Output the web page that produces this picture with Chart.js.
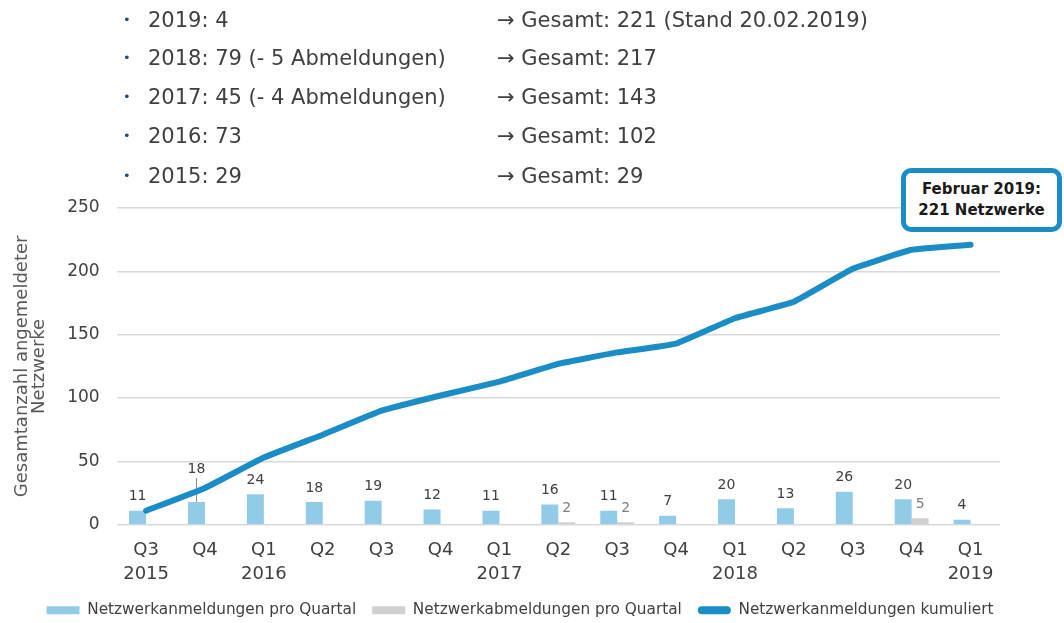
<!DOCTYPE html>
<html>
<head>
<meta charset="utf-8">
<script src="https://cdn.jsdelivr.net/npm/chart.js@4.4.1/dist/chart.umd.min.js"></script>
<style>
  body { margin: 0; background: #fff; font-family: "DejaVu Sans", sans-serif; }
  #wrap { position: relative; width: 1064px; height: 623px; overflow: hidden; }
  #chart { position: absolute; left: 0; top: 0; }
  .row { position: absolute; height: 26px; line-height: 26px; font-size: 21px; color: #404040; white-space: nowrap; }
  .bullet { position: absolute; left: 123px; font-size: 13px; color: #1f4e79; }
  .left { left: 148px; }
  .right { left: 497px; }
  #callout {
    position: absolute; left: 901px; top: 168px; width: 161px; height: 64px;
    box-sizing: border-box; border: 5px solid #1b8dc6; border-radius: 10px; background: #fff;
    font-weight: bold; font-size: 15px; line-height: 21px; color: #1a1a1a;
    display: flex; flex-direction: column; justify-content: center; align-items: center;
  }
</style>
</head>
<body>
<div id="wrap">
  <canvas id="chart" width="1064" height="623"></canvas>
</div>
<script>
const quarters = ["Q3", "Q4", "Q1", "Q2", "Q3", "Q4", "Q1", "Q2", "Q3", "Q4", "Q1", "Q2", "Q3", "Q4", "Q1"];
const years = ["2015", "", "2016", "", "", "", "2017", "", "", "", "2018", "", "", "", "2019"];

const anmeldungen = [11, 18, 24, 18, 19, 12, 11, 16, 11, 7, 20, 13, 26, 20, 4];
const abmeldungen = [null, null, null, null, null, null, null, 2, 2, null, null, null, null, 5, null];
const kumuliert = [11, 29, 53, 71, 90, 102, 113, 127, 136, 143, 163, 176, 202, 217, 221];

const yTicks = [0, 50, 100, 150, 200, 250];

const summaryLeft = ["2019: 4", "2018: 79 (- 5 Abmeldungen)", "2017: 45 (- 4 Abmeldungen)", "2016: 73", "2015: 29"];
const summaryRight = ["Gesamt: 221 (Stand 20.02.2019)", "Gesamt: 217", "Gesamt: 143", "Gesamt: 102", "Gesamt: 29"];
const calloutLines = ["Februar 2019:", "221 Netzwerke"];

const blue = "#1b8dc6";
const lightBlue = "#92cbe7";
const grey = "#d0d0d0";
const textColor = "#404040";

// bullet list above the chart
const wrap = document.getElementById("wrap");
const rowCenters = [20, 58, 97, 136, 176];
summaryLeft.forEach((txt, i) => {
    const top = rowCenters[i] - 13;
    const b = document.createElement("div");
    b.className = "row bullet";
    b.style.top = top + "px";
    b.textContent = "•";
    wrap.appendChild(b);

    const l = document.createElement("div");
    l.className = "row left";
    l.style.top = top + "px";
    l.textContent = txt;
    wrap.appendChild(l);

    const r = document.createElement("div");
    r.className = "row right";
    r.style.top = top + "px";
    r.textContent = "\u2192 " + summaryRight[i];
    wrap.appendChild(r);
});

const callout = document.createElement("div");
callout.id = "callout";
calloutLines.forEach(t => {
    const d = document.createElement("div");
    d.textContent = t;
    callout.appendChild(d);
});
wrap.appendChild(callout);


// value labels above the bars, drawn before the line so it passes over them
const barLabels = {
    id: "barLabels",
    afterDatasetDraw(chart, args, opts) {
        const meta = args.meta;
        if (meta.type !== "bar") return;
        const ds = chart.data.datasets[args.index];
        const ctx = chart.ctx;
        ctx.save();
        ctx.font = "14px 'DejaVu Sans'";
        ctx.textAlign = "center";
        ctx.textBaseline = "middle";
        meta.data.forEach((bar, i) => {
            const v = ds.data[i];
            if (v === null || v === undefined) return;
            let y = bar.y - 14;
            if (args.index === opts.leaderDataset && i === opts.leaderIndex) {
                y -= opts.leaderLift;
                ctx.strokeStyle = "#8c8c8c";
                ctx.lineWidth = 1;
                ctx.beginPath();
                ctx.moveTo(bar.x, y + 9);
                ctx.lineTo(bar.x, bar.y);
                ctx.stroke();
            }
            ctx.fillStyle = ds.labelColor;
            ctx.fillText(String(v), bar.x, y);
        });
        ctx.restore();
    }
};

// legend in the original sits a little right of the plot's centre
const legendShift = {
    id: "legendShift",
    afterLayout(chart, args, opts) {
        chart.legend.left += opts.dx;
        chart.legend.right += opts.dx;
    }
};

new Chart(document.getElementById("chart"), {
    type: "bar",
    data: {
        labels: quarters.map((q, i) => [q, years[i]]),
        datasets: [
            {
                label: "Netzwerkanmeldungen pro Quartal",
                data: anmeldungen,
                backgroundColor: lightBlue,
                labelColor: textColor,
                categoryPercentage: 0.576,
                barPercentage: 1.0,
                order: 1
            },
            {
                label: "Netzwerkabmeldungen pro Quartal",
                data: abmeldungen,
                backgroundColor: grey,
                labelColor: "#7f7f7f",
                categoryPercentage: 0.576,
                barPercentage: 1.0,
                order: 2
            },
            {
                type: "line",
                label: "Netzwerkanmeldungen kumuliert",
                data: kumuliert,
                borderColor: blue,
                backgroundColor: blue,
                borderWidth: 6,
                tension: 0.1,
                pointRadius: 0,
                borderCapStyle: "round",
                borderJoinStyle: "round",
                order: 0
            }
        ]
    },
    options: {
        responsive: false,
        animation: false,
        layout: { padding: { top: 208, right: 64, left: 14, bottom: -5 } },
        plugins: {
            tooltip: { enabled: false },
            barLabels: { leaderDataset: 0, leaderIndex: 1, leaderLift: 19 },
            legendShift: { dx: 13 },
            legend: {
                position: "bottom",
                labels: {
                    color: textColor,
                    font: { family: "DejaVu Sans", size: 15.3 },
                    boxWidth: 33,
                    boxHeight: 8,
                    padding: 16,
                    useBorderRadius: true,
                    sort: (a, b) => a.datasetIndex - b.datasetIndex,
                    generateLabels(chart) {
                        const items = Chart.defaults.plugins.legend.labels.generateLabels(chart);
                        items.forEach(it => {
                            const ds = chart.data.datasets[it.datasetIndex];
                            it.fillStyle = ds.type === "line" ? ds.borderColor : ds.backgroundColor;
                            it.strokeStyle = it.fillStyle;
                            it.lineWidth = 0;
                            it.borderRadius = ds.type === "line" ? 4 : 0;
                        });
                        return items;
                    }
                }
            }
        },
        scales: {
            x: {
                afterFit: scale => { scale.height = 62; },
                grid: { display: false },
                border: { display: false },
                ticks: {
                    color: textColor,
                    font: { family: "DejaVu Sans", size: 18, lineHeight: 1.35 },
                    padding: 5,
                    maxRotation: 0,
                    autoSkip: false
                }
            },
            y: {
                min: 0,
                max: 250,
                afterBuildTicks: scale => { scale.ticks = yTicks.map(v => ({ value: v })); },
                grid: { color: "#d9d9d9", drawTicks: false, lineWidth: 1.5 },
                border: { display: false },
                ticks: {
                    color: textColor,
                    font: { family: "DejaVu Sans", size: 17 },
                    padding: 17
                },
                title: {
                    display: true,
                    text: ["Gesamtanzahl angemeldeter", "Netzwerke"],
                    color: "#595959",
                    font: { family: "DejaVu Sans", size: 18, lineHeight: 0.95 },
                    padding: { top: 0, bottom: 2 }
                }
            }
        }
    },
    plugins: [barLabels, legendShift]
});
</script>
</body>
</html>
